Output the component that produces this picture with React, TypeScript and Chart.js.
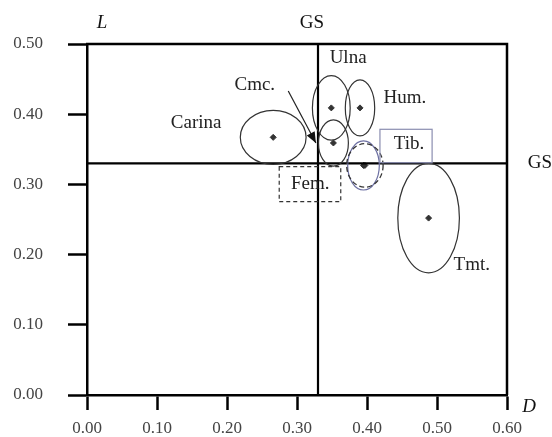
import React, { useEffect, useRef } from 'react';
import { Chart, registerables } from 'chart.js';

Chart.register(...registerables);

// ---- data ----
const xTickValues = [0, 0.1, 0.2, 0.3, 0.4, 0.5, 0.6];
const yTickValues = [0, 0.1, 0.2, 0.3, 0.4, 0.5];
const gsD = 0.33;
const gsL = 0.33;

const boneNames = ['Carina', 'Cmc.', 'Ulna', 'Hum.', 'Tib.', 'Fem.', 'Tmt.'];
const centerD = [0.266, 0.352, 0.349, 0.39, 0.395, 0.397, 0.488];
const centerL = [0.367, 0.359, 0.409, 0.409, 0.327, 0.327, 0.252];
const spreadD = [0.047, 0.0214, 0.027, 0.021, 0.0226, 0.026, 0.044];
const spreadL = [0.0385, 0.033, 0.046, 0.04, 0.035, 0.031, 0.078];

// ---- layout / style (kept apart from data) ----
const FONT = '"Liberation Serif", "Times New Roman", serif';
const ellipseStyle: Record<string, { color: string; dash: number[]; width: number }> = {
  'Tib.': { color: '#6d70a3', dash: [], width: 1.2 },
  'Fem.': { color: '#333', dash: [5, 3], width: 1.3 },
};
const labelPos: Record<string, [number, number]> = {
  Carina: [0.1559, 0.387],
  'Cmc.': [0.2397, 0.4416],
  Ulna: [0.373, 0.48],
  'Hum.': [0.4542, 0.423],
  'Tib.': [0.4599, 0.3575],
  'Fem.': [0.3188, 0.3006],
  'Tmt.': [0.5497, 0.1852],
};
const boxes: Record<string, { x0: number; x1: number; y0: number; y1: number; color: string; dash: number[] }> = {
  'Tib.': { x0: 0.4185, x1: 0.493, y0: 0.3309, y1: 0.3785, color: '#8a8db0', dash: [] },
  'Fem.': { x0: 0.2746, x1: 0.3625, y0: 0.2754, y1: 0.3252, color: '#333', dash: [4, 3] },
};
const arrowFrom: [number, number] = [0.2875, 0.433];
const arrowTo: [number, number] = [0.327, 0.359];

const overlay = {
  id: 'overlay',
  afterDatasetsDraw(chart: any) {
    const { ctx, chartArea: a, scales } = chart;
    const xs = scales.x;
    const ys = scales.y;
    const px = (v: number) => xs.getPixelForValue(v);
    const py = (v: number) => ys.getPixelForValue(v);
    ctx.save();

    // frame top & right
    ctx.strokeStyle = '#000';
    ctx.lineWidth = 2.5;
    ctx.beginPath();
    ctx.moveTo(a.left - 1, a.top);
    ctx.lineTo(a.right, a.top);
    ctx.lineTo(a.right, a.bottom);
    ctx.stroke();

    // GS lines
    ctx.lineWidth = 2.2;
    ctx.beginPath();
    ctx.moveTo(px(gsD), a.top);
    ctx.lineTo(px(gsD), a.bottom);
    ctx.moveTo(a.left, py(gsL));
    ctx.lineTo(a.right, py(gsL));
    ctx.stroke();

    // ellipses
    boneNames.forEach((n, i) => {
      const st = ellipseStyle[n] || { color: '#333', dash: [], width: 1.2 };
      const cx = px(centerD[i]);
      const cy = py(centerL[i]);
      const rx = Math.abs(px(centerD[i] + spreadD[i]) - cx);
      const ry = Math.abs(py(centerL[i] + spreadL[i]) - cy);
      ctx.strokeStyle = st.color;
      ctx.lineWidth = st.width;
      ctx.setLineDash(st.dash);
      ctx.beginPath();
      ctx.ellipse(cx, cy, rx, ry, 0, 0, Math.PI * 2);
      ctx.stroke();
    });
    ctx.setLineDash([]);

    // boxes
    Object.keys(boxes).forEach((k) => {
      const b = boxes[k];
      ctx.strokeStyle = b.color;
      ctx.lineWidth = 1.2;
      ctx.setLineDash(b.dash);
      ctx.strokeRect(px(b.x0), py(b.y1), px(b.x1) - px(b.x0), py(b.y0) - py(b.y1));
    });
    ctx.setLineDash([]);

    // arrow
    const ax0 = px(arrowFrom[0]), ay0 = py(arrowFrom[1]);
    const ax1 = px(arrowTo[0]), ay1 = py(arrowTo[1]);
    ctx.strokeStyle = '#222';
    ctx.fillStyle = '#111';
    ctx.lineWidth = 1.2;
    ctx.beginPath();
    ctx.moveTo(ax0, ay0);
    ctx.lineTo(ax1, ay1);
    ctx.stroke();
    const ang = Math.atan2(ay1 - ay0, ax1 - ax0);
    const hl = 11, hw = 4.5;
    ctx.beginPath();
    ctx.moveTo(ax1, ay1);
    ctx.lineTo(ax1 - hl * Math.cos(ang) + hw * Math.sin(ang), ay1 - hl * Math.sin(ang) - hw * Math.cos(ang));
    ctx.lineTo(ax1 - hl * Math.cos(ang) - hw * Math.sin(ang), ay1 - hl * Math.sin(ang) + hw * Math.cos(ang));
    ctx.closePath();
    ctx.fill();

    // labels
    ctx.fillStyle = '#222';
    ctx.font = `19px ${FONT}`;
    ctx.textAlign = 'center';
    ctx.textBaseline = 'middle';
    Object.keys(labelPos).forEach((k) => {
      const [lx, ly] = labelPos[k];
      ctx.fillText(k, px(lx), py(ly));
    });

    // GS labels
    ctx.fillStyle = '#111';
    ctx.fillText('GS', px(gsD) - 6, a.top - 21);
    ctx.fillText('GS', a.right + 33, py(gsL));

    // axis titles
    ctx.font = `italic 19px ${FONT}`;
    ctx.fillText('L', a.left + 15, a.top - 21);
    ctx.fillText('D', a.right + 22, a.bottom + 12);

    ctx.restore();
  },
};

export default function App() {
  const ref = useRef<HTMLCanvasElement | null>(null);
  useEffect(() => {
    if (!ref.current) return;
    const chart = new Chart(ref.current, {
      type: 'scatter',
      data: {
        datasets: [
          {
            data: centerD.map((d, i) => ({ x: d, y: centerL[i] })),
            pointStyle: 'rectRot',
            pointRadius: 3,
            backgroundColor: '#333',
            borderColor: '#333',
            borderWidth: 1,
          },
        ],
      },
      options: {
        responsive: false,
        animation: false,
        events: [],
        layout: { padding: { top: 44, right: 45, left: 0, bottom: 0 } },
        plugins: { legend: { display: false }, tooltip: { enabled: false }, title: { display: false } },
        scales: {
          x: {
            type: 'linear',
            min: 0,
            max: 0.6,
            afterBuildTicks: (s: any) => { s.ticks = xTickValues.map((v) => ({ value: v })); },
            afterFit: (s: any) => { s.height = 42; },
            ticks: {
              callback: (v: any) => Number(v).toFixed(2),
              color: '#444',
              font: { family: FONT, size: 17 },
              padding: 8,
              maxRotation: 0,
            },
            grid: { drawOnChartArea: false, drawTicks: true, tickLength: 15, tickWidth: 2.5, tickColor: '#000', color: '#000' },
            border: { display: true, color: '#000', width: 2.5 },
          },
          y: {
            type: 'linear',
            min: 0,
            max: 0.5,
            afterBuildTicks: (s: any) => { s.ticks = yTickValues.map((v) => ({ value: v })); },
            afterFit: (s: any) => { s.width = 87; },
            ticks: {
              callback: (v: any) => Number(v).toFixed(2),
              color: '#444',
              font: { family: FONT, size: 17 },
              padding: 25,
            },
            grid: { drawOnChartArea: false, drawTicks: true, tickLength: 19, tickWidth: 2.5, tickColor: '#000', color: '#000' },
            border: { display: true, color: '#000', width: 2.5 },
          },
        },
      },
      plugins: [overlay],
    });
    return () => chart.destroy();
  }, []);
  return (
    <div style={{ position: 'absolute', left: 0, top: 0, width: 552, height: 437, background: '#fff' }}>
      <canvas ref={ref} width={552} height={437} style={{ display: 'block' }} />
    </div>
  );
}
